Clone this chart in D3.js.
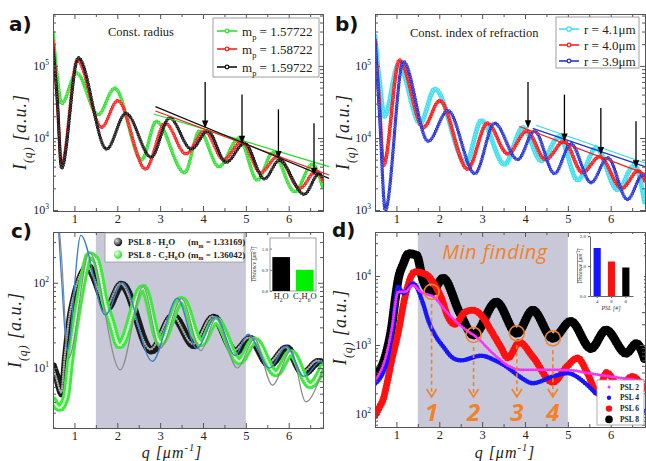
<!DOCTYPE html>
<html><head><meta charset="utf-8">
<script src="https://cdn.jsdelivr.net/npm/d3@7/dist/d3.min.js"></script>
<style>html,body{margin:0;padding:0;background:#fff;}svg{display:block;}</style>
</head><body>
<svg id="fig" width="646" height="461"></svg>
<script>
// ---------------- data ----------------
const qMajor = [1, 2, 3, 4, 5, 6];
const qMinor = [0.5, 1.5, 2.5, 3.5, 4.5, 5.5, 6.5];
const yTicksAB = [1e3, 1e4, 1e5];
const yTicksC = [1e1, 1e2];
const yTicksD = [1e2, 1e3, 1e4];

// panel a (const. radius)
const aGreen = [[0.5,2.9e5],[0.6,7.0e4],[0.7,3.0e4],[1.05,8.0e4],[1.55,2.1e4],[1.94,4.9e4],[2.57,5.0e3],[2.91,1.7e4],[3.57,3.3e3],[3.92,1.25e4],[4.37,4.0e3],[4.84,1.0e4],[5.27,2.6e3],[5.63,6.3e3],[6.14,1.8e3],[6.55,4.3e3],[6.8,2.0e3]];
const abRed  = [[0.5,2.2e5],[0.6,3.2e4],[0.7,4.2e3],[1.07,1.2e5],[1.63,1.4e4],[2.01,3.3e4],[2.66,3.7e3],[3.12,1.6e4],[3.6,6.0e3],[4.04,1.25e4],[4.48,5.0e3],[4.91,9.0e3],[5.34,3.3e3],[5.74,5.5e3],[6.26,2.0e3],[6.64,3.5e3],[6.8,2.5e3]];
const aBlack = [[0.5,1.8e5],[0.6,3.4e4],[0.7,3.8e3],[1.09,1.3e5],[1.75,7.0e3],[2.2,2.2e4],[2.79,5.4e3],[3.22,1.9e4],[3.73,7.0e3],[4.11,1.25e4],[4.54,4.6e3],[4.97,8.5e3],[5.43,2.7e3],[5.78,4.9e3],[6.36,1.65e3],[6.71,3.2e3],[6.8,2.8e3]];
const aFitGreen = [[2.85,2.15e4],[6.94,4.0e3]];
const aFitRed   = [[2.89,2.37e4],[6.94,3.06e3]];
const aFitBlack = [[2.89,2.72e4],[6.94,2.75e3]];
const aArrowQ    = [4.05, 4.91, 5.76, 6.59];
const aArrowTip  = [1.35e4, 8.3e3, 5.1e3, 3.0e3];
const aArrowTail = [6.0e4, 4.0e4, 2.5e4, 1.6e4];

// panel b (const. index of refraction)
const bCyan = [[0.5,2.6e5],[0.6,6.5e4],[0.72,2.0e4],[1.05,1.05e5],[1.55,1.6e4],[1.9,4.8e4],[2.62,4.5e3],[2.98,1.75e4],[3.52,4.3e3],[3.95,1.4e4],[4.38,4.8e3],[4.8,1.05e4],[5.23,2.6e3],[5.66,7.3e3],[6.16,1.9e3],[6.55,4.2e3],[6.8,1.2e3]];
const bBlue = [[0.5,2.3e5],[0.6,2.5e4],[0.74,1.0e3],[1.16,1.15e5],[1.74,9.0e3],[2.2,2.4e4],[2.83,3.2e3],[3.29,1.6e4],[3.83,5.0e3],[4.22,1.25e4],[4.69,3.2e3],[5.07,8.3e3],[5.54,2.4e3],[5.93,5.3e3],[6.39,1.4e3],[6.75,3.1e3],[6.8,3.0e3]];
const bFitCyan = [[4.26,1.5e4],[6.8,4.5e3]];
const bFitRed  = [[3.87,1.44e4],[6.8,3.2e3]];
const bFitBlue = [[4.18,1.36e4],[6.8,4.0e3]];
const bArrowQ    = [4.07, 4.92, 5.77, 6.59];
const bArrowTip  = [1.36e4, 8.9e3, 5.8e3, 3.8e3];
const bArrowTail = [6.0e4, 4.0e4, 2.6e4, 1.7e4];

// panel c (PSL 8 in two media)
const cH2O   = [[0.5,10.5],[0.6,7.5],[0.72,5.0],[0.8,13],[0.9,36],[1.0,66],[1.1,100],[1.2,132],[1.32,155],[1.45,120],[1.6,76],[1.75,50],[2.1,95],[2.8,16],[3.3,40],[3.8,18.5],[4.25,39],[4.75,15.5],[5.1,22],[5.55,11],[5.95,17],[6.35,8.7],[6.7,11.8],[6.8,11.5]];
const cC2H6O = [[0.5,4.2],[0.65,3.4],[0.8,4.6],[0.9,12],[1.0,28],[1.1,58],[1.2,110],[1.35,210],[1.5,185],[1.6,118],[1.7,63],[1.85,36],[2.05,18.5],[2.6,87],[3.0,20],[3.5,63],[3.95,19.5],[4.3,36],[4.85,12],[5.2,21],[5.7,8.7],[6.05,15],[6.5,6.3],[6.8,10.5]];
const cFitBlue = [[0.5,2000],[0.6,700],[0.7,110],[0.83,16],[1.15,360],[1.72,42],[2.12,100],[2.82,12],[3.4,66],[3.85,17],[4.3,40],[4.75,14],[5.05,25],[5.55,10],[5.95,18],[6.35,8],[6.75,12],[6.8,11.5]];
const cFitGray = [[0.6,900],[0.7,200],[0.86,13],[1.35,225],[2.07,9.5],[2.6,90],[3.0,17],[3.5,65],[3.95,16],[4.3,38],[4.8,10],[5.2,22],[5.62,6.3],[6.05,16],[6.4,4.0],[6.8,10]];
const cInsetCats = ["H2O", "C2H6O"];
const cInsetVals = [0.96, 0.90];

// panel d (min finding)
const dPSL2 = [[0.5,310],[0.77,750],[0.89,1700],[1.04,5900],[1.2,5900],[1.39,7400],[1.55,6000],[1.86,5000],[2.24,2700],[2.63,1650],[2.87,1300],[3.25,760],[3.64,490],[3.87,440],[4.5,440],[5.1,430],[5.4,400],[6.0,350],[6.8,300]];
const dPSL4 = [[0.5,275],[0.77,550],[0.89,1450],[1.04,7000],[1.16,5600],[1.39,7800],[1.62,4000],[1.74,2300],[1.9,1400],[2.09,950],[2.32,650],[2.5,600],[2.98,700],[3.3,600],[3.56,490],[3.87,350],[4.18,280],[4.65,350],[4.99,390],[5.42,275],[5.62,210],[6.0,160],[6.4,130],[6.8,110]];
const dPSL6 = [[0.5,95],[0.6,125],[0.7,170],[0.77,260],[0.89,600],[1.04,1500],[1.2,5000],[1.43,11500],[1.7,10500],[1.86,8000],[2.05,4800],[2.2,2600],[2.36,2000],[2.6,3000],[2.8,3200],[3.0,2600],[3.2,1650],[3.43,950],[3.6,650],[3.87,1100],[4.18,680],[4.65,290],[4.98,490],[5.23,650],[5.45,400],[5.7,200],[5.9,400],[6.2,250],[6.5,350],[6.8,220]];
const dPSL8 = [[0.5,350],[0.77,800],[0.89,1850],[0.97,4500],[1.04,8800],[1.16,15000],[1.28,21000],[1.47,20000],[1.62,8700],[1.82,5900],[2.09,9300],[2.48,2900],[2.8,1400],[3.33,4200],[3.81,1480],[4.18,3200],[4.65,1250],[5.07,2200],[5.54,890],[5.89,1650],[6.36,760],[6.6,1050],[6.8,600]];
const dInsetCats = ["4", "6", "8"];
const dInsetVals = [1.6, 1.15, 0.95];
const minQ = [1.82, 2.8, 3.81, 4.65];
const minI = [5900, 1400, 1480, 1250];
const minLabels = ["1", "2", "3", "4"];
const shadeQ = [1.5, 5.0];

// ---------------- drawing ----------------
const SERIF = '"Liberation Serif","Times New Roman",serif';
const SANS = '"DejaVu Sans",Verdana,sans-serif';
const ORANGE = '#f2822a';
const AXC = '#555';
const svg = d3.select('#fig');
const defs = svg.append('defs');

function rich(sel, parts, base) {
  let shift = 0;
  parts.forEach(([t, k]) => {
    const target = k === 'sub' ? base * 0.32 : k === 'sup' ? -base * 0.42 : 0;
    const ts = sel.append('tspan').text(t).attr('dy', target - shift);
    if (k) ts.attr('font-size', base * 0.65);
    shift = target;
  });
  return sel;
}

function minorLog(dom) {
  const out = [];
  for (let e = Math.floor(Math.log10(dom[0])); e <= Math.ceil(Math.log10(dom[1])); e++)
    for (let k = 2; k <= 9; k++) { const v = k * Math.pow(10, e); if (v > dom[0] && v < dom[1]) out.push(v); }
  return out;
}

function makePanel(id, xr, yr, ydom) {
  const x = d3.scaleLinear().domain([0.5, 6.8]).range(xr);
  const y = d3.scaleLog().domain(ydom).range(yr);
  const g = svg.append('g');
  defs.append('clipPath').attr('id', 'clip' + id).append('rect')
    .attr('x', xr[0]).attr('y', yr[1]).attr('width', xr[1] - xr[0]).attr('height', yr[0] - yr[1]);
  const plot = g.append('g').attr('clip-path', `url(#clip${id})`);
  return { x, y, g, plot };
}

function axes(P, majorY) {
  const { x, y, g } = P;
  const [xl, xr] = x.range(), [yb, yt] = y.range();
  const add = (ax, tr) => {
    const s = g.append('g').attr('transform', tr).call(ax);
    s.select('.domain').attr('stroke', AXC);
    s.selectAll('.tick line').attr('stroke', AXC);
    return s;
  };
  const xb = add(d3.axisBottom(x).tickValues(qMajor).tickFormat(d3.format('d')).tickSizeInner(-5).tickSizeOuter(0).tickPadding(3), `translate(0,${yb})`);
  xb.selectAll('text').attr('font-size', 12.5).attr('font-family', SERIF).attr('fill', '#222');
  add(d3.axisBottom(x).tickValues(qMinor).tickSizeInner(-3).tickSizeOuter(0).tickFormat(''), `translate(0,${yb})`);
  add(d3.axisTop(x).tickValues(qMajor).tickSizeInner(-5).tickSizeOuter(0).tickFormat(''), `translate(0,${yt})`);
  add(d3.axisTop(x).tickValues(qMinor).tickSizeInner(-3).tickSizeOuter(0).tickFormat(''), `translate(0,${yt})`);
  const yl = add(d3.axisLeft(y).tickValues(majorY).tickSizeInner(-5).tickSizeOuter(0).tickPadding(4), `translate(${xl},0)`);
  yl.selectAll('.tick text').each(function (d) {
    const t = d3.select(this).text('10').attr('font-size', 12).attr('font-family', SERIF).attr('fill', '#222');
    t.append('tspan').attr('dy', -5).attr('font-size', 7.5).text(Math.round(Math.log10(d)));
  });
  const mn = minorLog(y.domain());
  add(d3.axisLeft(y).tickValues(mn).tickSizeInner(-3).tickSizeOuter(0).tickFormat(''), `translate(${xl},0)`);
  add(d3.axisRight(y).tickValues(majorY).tickSizeInner(-5).tickSizeOuter(0).tickFormat(''), `translate(${xr},0)`);
  add(d3.axisRight(y).tickValues(mn).tickSizeInner(-3).tickSizeOuter(0).tickFormat(''), `translate(${xr},0)`);
}

function curvePath(data, x, y) {
  return d3.line().x(d => x(d[0])).y(d => y(d[1])).curve(d3.curveMonotoneX)(data);
}
function beads(g, data, x, y, o) {
  const p = curvePath(data, x, y);
  const gg = g.append('g');
  gg.append('path').attr('d', p).attr('fill', 'none').attr('stroke', o.color)
    .attr('stroke-width', o.size).attr('stroke-linecap', 'round').attr('stroke-dasharray', `0 ${o.gap}`);
  if (o.inner) {
    gg.append('path').attr('d', p).attr('fill', 'none').attr('stroke', o.inner)
      .attr('stroke-width', o.innerSize).attr('stroke-linecap', 'round').attr('stroke-dasharray', `0 ${o.gap}`)
      .attr('opacity', o.innerOpacity || 1)
      .attr('transform', o.innerShift ? `translate(${o.innerShift[0]},${o.innerShift[1]})` : null);
  }
  if (o.line) gg.append('path').attr('d', p).attr('fill', 'none').attr('stroke', o.lineColor || o.color).attr('stroke-width', o.line);
}
function plainLine(g, data, x, y, color, w, curve) {
  g.append('path').attr('d', d3.line().x(d => x(d[0])).y(d => y(d[1])).curve(curve || d3.curveLinear)(data))
    .attr('fill', 'none').attr('stroke', color).attr('stroke-width', w);
}
function arrows(g, qs, tips, tails, x, y) {
  qs.forEach((q, i) => {
    const xx = x(q), yt = y(tips[i]), y0 = y(tails[i]);
    g.append('line').attr('x1', xx).attr('x2', xx).attr('y1', y0).attr('y2', yt - 6).attr('stroke', '#000').attr('stroke-width', 1.3);
    g.append('path').attr('d', `M${xx - 3.2},${yt - 8}L${xx + 3.2},${yt - 8}L${xx},${yt}Z`).attr('fill', '#000');
  });
}
function ylabel(xb, yc) {
  const t = svg.append('text').attr('transform', `translate(${xb},${yc}) rotate(-90)`).attr('text-anchor', 'middle')
    .attr('font-family', SERIF).attr('font-style', 'italic').attr('font-size', 18).attr('letter-spacing', 1).attr('fill', '#222');
  rich(t, [['I', 0], ['(q)', 'sub'], [' [a.u.]', 0]], 18);
}
function xlabel(xc, yb) {
  const t = svg.append('text').attr('x', xc).attr('y', yb).attr('text-anchor', 'middle')
    .attr('font-family', SERIF).attr('font-style', 'italic').attr('font-size', 16).attr('letter-spacing', 1).attr('fill', '#222');
  rich(t, [['q [μm', 0], ['-1', 'sup'], [']', 0]], 16);
}
function panelLabel(s, xx, yy) {
  svg.append('text').attr('x', xx).attr('y', yy).text(s).attr('font-family', SANS).attr('font-weight', 'bold').attr('font-size', 20).attr('fill', '#111');
}
function legendLine(g, x0, yy, color, r, txtParts, size) {
  g.append('line').attr('x1', x0).attr('x2', x0 + 20).attr('y1', yy).attr('y2', yy).attr('stroke', color).attr('stroke-width', 1.6);
  g.append('circle').attr('cx', x0 + 10).attr('cy', yy).attr('r', r).attr('fill', '#fff').attr('stroke', color).attr('stroke-width', 1.3);
  const t = g.append('text').attr('x', x0 + 25).attr('y', yy + 4.5).attr('font-family', SERIF).attr('font-size', size).attr('fill', '#222');
  rich(t, txtParts, size);
}

// ===== Panel a =====
const A = makePanel('a', [53, 323], [211, 14], [970, 5.25e5]);
beads(A.plot, aGreen, A.x, A.y, { color: '#33e033', size: 3.8, gap: 2.6, inner: '#d4fad4', innerSize: 1.6, line: 0.9 });
beads(A.plot, abRed, A.x, A.y, { color: '#ff2020', size: 3.6, gap: 2.6, inner: '#ffd8d8', innerSize: 1.5, line: 0.9 });
beads(A.plot, aBlack, A.x, A.y, { color: '#151515', size: 3.4, gap: 2.6, inner: '#d8d8d8', innerSize: 1.4, line: 0.9 });
plainLine(A.g, aFitGreen, A.x, A.y, '#22dd22', 1.2);
plainLine(A.g, aFitRed, A.x, A.y, '#ff1a1a', 1.2);
plainLine(A.g, aFitBlack, A.x, A.y, '#111', 1.2);
arrows(A.g, aArrowQ, aArrowTip, aArrowTail, A.x, A.y);
axes(A, yTicksAB);
A.g.append('text').attr('x', 108).attr('y', 36).text('Const. radius').attr('font-family', SERIF).attr('font-size', 12.5).attr('fill', '#222');
{
  const L = A.g.append('g');
  L.append('rect').attr('x', 213).attr('y', 18).attr('width', 106).attr('height', 59).attr('fill', '#fff').attr('stroke', '#888').attr('stroke-width', 0.8);
  legendLine(L, 217, 31, '#33e033', 1.8, [['m', 0], ['p', 'sub'], [' = 1.57722', 0]], 13);
  legendLine(L, 217, 49, '#ff2020', 1.8, [['m', 0], ['p', 'sub'], [' = 1.58722', 0]], 13);
  legendLine(L, 217, 67, '#151515', 1.8, [['m', 0], ['p', 'sub'], [' = 1.59722', 0]], 13);
}
ylabel(26, 132);
panelLabel('a)', 9, 31);

// ===== Panel b =====
const B = makePanel('b', [375, 645], [211, 14], [970, 5.25e5]);
beads(B.plot, bCyan, B.x, B.y, { color: '#40e0f0', size: 5, gap: 2.8, inner: '#dcfafd', innerSize: 2.2, line: 1.4 });
beads(B.plot, abRed, B.x, B.y, { color: '#ff2020', size: 4, gap: 2.6, inner: '#ffd8d8', innerSize: 1.6, line: 1.1 });
beads(B.plot, bBlue, B.x, B.y, { color: '#2535d8', size: 3.6, gap: 2.6, inner: '#d8dcff', innerSize: 1.5, line: 1.0 });
plainLine(B.g, bFitCyan, B.x, B.y, '#30d8ec', 1.2);
plainLine(B.g, bFitRed, B.x, B.y, '#ff1a1a', 1.2);
plainLine(B.g, bFitBlue, B.x, B.y, '#2233cc', 1.2);
arrows(B.g, bArrowQ, bArrowTip, bArrowTail, B.x, B.y);
axes(B, yTicksAB);
B.g.append('text').attr('x', 410).attr('y', 37).text('Const. index of refraction').attr('font-family', SERIF).attr('font-size', 12.5).attr('fill', '#222');
{
  const L = B.g.append('g');
  L.append('rect').attr('x', 556).attr('y', 17).attr('width', 83).attr('height', 51).attr('fill', '#fff').attr('stroke', '#888').attr('stroke-width', 0.8);
  legendLine(L, 559, 29, '#40e0f0', 2.2, [['r = 4.1μm', 0]], 13);
  legendLine(L, 559, 45, '#ff2020', 1.8, [['r = 4.0μm', 0]], 13);
  legendLine(L, 559, 61, '#2535d8', 1.8, [['r = 3.9μm', 0]], 13);
}
ylabel(349, 132);
panelLabel('b)', 335, 31);

// ===== Panel c =====
const C = makePanel('c', [53, 323], [428, 232], [1.98, 394]);
C.plot.append('rect').attr('x', C.x(shadeQ[0])).attr('y', 232).attr('width', C.x(shadeQ[1]) - C.x(shadeQ[0])).attr('height', 196).attr('fill', '#c8c8d8');
beads(C.plot, cH2O, C.x, C.y, { color: '#1a1a1a', size: 8, gap: 2.4, inner: '#e8e8e8', innerSize: 2.4, innerOpacity: 0.7, innerShift: [-1.2, -1.3] });
beads(C.plot, cC2H6O, C.x, C.y, { color: '#3ee83e', size: 8, gap: 2.4, inner: '#e6ffe6', innerSize: 2.6, innerOpacity: 0.9 });
plainLine(C.plot, cFitGray, C.x, C.y, '#8a8a8a', 1.2, d3.curveMonotoneX);
plainLine(C.plot, cFitBlue, C.x, C.y, '#3b7fc4', 1.3, d3.curveMonotoneX);
axes(C, yTicksC);
{
  const L = C.g.append('g');
  L.append('rect').attr('x', 105).attr('y', 233).attr('width', 139).attr('height', 29).attr('fill', '#fff').attr('stroke', '#999').attr('stroke-width', 0.8);
  const grad = (id, c0, c1) => {
    const rg = defs.append('radialGradient').attr('id', id).attr('cx', '35%').attr('cy', '35%').attr('r', '65%');
    rg.append('stop').attr('offset', '0%').attr('stop-color', c0);
    rg.append('stop').attr('offset', '100%').attr('stop-color', c1);
  };
  grad('gBlack', '#e0e0e0', '#111');
  grad('gGreen', '#eaffea', '#2ee02e');
  L.append('circle').attr('cx', 118).attr('cy', 242).attr('r', 4.2).attr('fill', 'url(#gBlack)');
  L.append('circle').attr('cx', 118).attr('cy', 254.5).attr('r', 4.2).attr('fill', 'url(#gGreen)');
  const tt = (xx, yy, parts) => rich(L.append('text').attr('x', xx).attr('y', yy).attr('font-family', SERIF).attr('font-weight', 'bold').attr('font-size', 9).attr('fill', '#222'), parts, 9);
  tt(128, 245, [['PSL 8 - H', 0], ['2', 'sub'], ['O', 0]]);
  tt(188, 245, [['(m', 0], ['m', 'sub'], [' = 1.33169)', 0]]);
  tt(128, 257.5, [['PSL 8 - C', 0], ['2', 'sub'], ['H', 0], ['6', 'sub'], ['O', 0]]);
  tt(188, 257.5, [['(m', 0], ['m', 'sub'], [' = 1.36042)', 0]]);
}
{ // inset c
  const I = C.g.append('g');
  const xi = d3.scaleBand().domain(cInsetCats).range([270, 316]).paddingInner(0.25).paddingOuter(0.1);
  const yi = d3.scaleLinear().domain([0.8, 1.05]).range([291, 238]);
  I.append('rect').attr('x', 270).attr('y', 238).attr('width', 46).attr('height', 53).attr('fill', '#fff').attr('stroke', '#777').attr('stroke-width', 0.7);
  I.selectAll('rect.bar').data(cInsetVals).enter().append('rect').attr('class', 'bar')
    .attr('x', (d, i) => xi(cInsetCats[i])).attr('width', xi.bandwidth())
    .attr('y', d => yi(d)).attr('height', d => yi(0.8) - yi(d))
    .attr('fill', (d, i) => ['#000', '#00f000'][i]);
  const ya = I.append('g').attr('transform', 'translate(270,0)').call(d3.axisLeft(yi).tickValues([0.8, 0.9, 1.0]).tickFormat(d3.format('.1f')).tickSizeInner(-2).tickSizeOuter(0).tickPadding(2));
  ya.select('.domain').remove();
  ya.selectAll('line').attr('stroke', '#777');
  ya.selectAll('text').attr('font-size', 5).attr('font-family', SERIF).attr('fill', '#333');
  const lab = [[['H', 0], ['2', 'sub'], ['O', 0]], [['C', 0], ['2', 'sub'], ['H', 0], ['6', 'sub'], ['O', 0]]];
  cInsetCats.forEach((c, i) => rich(I.append('text').attr('x', xi(c) + xi.bandwidth() / 2).attr('y', 299).attr('text-anchor', 'middle').attr('font-family', SERIF).attr('font-size', 8.5).attr('fill', '#222'), lab[i], 8.5));
  const yt = I.append('text').attr('transform', 'translate(256,264) rotate(-90)').attr('text-anchor', 'middle').attr('font-family', SERIF).attr('font-style', 'italic').attr('font-size', 5.5).attr('text-decoration', 'overline').attr('fill', '#333');
  rich(yt, [['Distance [μm', 0], ['-1', 'sup'], [']', 0]], 5.5);
}
ylabel(21, 330);
xlabel(172, 458);
panelLabel('c)', 11, 238);

// ===== Panel d =====
const D = makePanel('d', [375, 645], [427, 232], [64.9, 43450]);
D.plot.append('rect').attr('x', D.x(shadeQ[0])).attr('y', 232).attr('width', D.x(shadeQ[1]) - D.x(shadeQ[0])).attr('height', 195).attr('fill', '#c8c8d8');
beads(D.plot, dPSL8, D.x, D.y, { color: '#000', size: 9, gap: 2.6 });
beads(D.plot, dPSL6, D.x, D.y, { color: '#ff1010', size: 7, gap: 2.8 });
beads(D.plot, dPSL4, D.x, D.y, { color: '#1515ff', size: 4.6, gap: 2.4 });
beads(D.plot, dPSL2, D.x, D.y, { color: '#ff30ff', size: 3, gap: 2.4 });
D.g.append('text').attr('x', 495).attr('y', 259).attr('text-anchor', 'middle').text('Min finding')
  .attr('font-family', '"Open Sans",sans-serif').attr('font-style', 'italic').attr('font-size', 20).attr('letter-spacing', 0.5).attr('fill', ORANGE);
minQ.forEach((q, i) => {
  const cx = D.x(q), cy = D.y(minI[i]);
  D.g.append('circle').attr('cx', cx).attr('cy', cy).attr('r', 7.5).attr('fill', 'none').attr('stroke', ORANGE).attr('stroke-width', 1.6);
  D.g.append('line').attr('x1', cx).attr('x2', cx).attr('y1', cy + 12).attr('y2', 396).attr('stroke', ORANGE).attr('stroke-width', 1.6).attr('stroke-dasharray', '4 3');
  D.g.append('path').attr('d', `M${cx - 5},${389}L${cx},${397}L${cx + 5},${389}`).attr('fill', 'none').attr('stroke', ORANGE).attr('stroke-width', 1.6);
  D.g.append('text').attr('x', cx).attr('y', 421).attr('text-anchor', 'middle').text(minLabels[i])
    .attr('font-family', '"Open Sans",sans-serif').attr('font-style', 'italic').attr('font-weight', 'bold').attr('font-size', 24).attr('fill', ORANGE);
});
axes(D, yTicksD);
{ // inset d
  const I = D.g.append('g');
  I.append('rect').attr('x', 572).attr('y', 234).attr('width', 72).attr('height', 77).attr('fill', '#fff');
  const xi = d3.scaleBand().domain(dInsetCats).range([590, 633]).paddingInner(0.5).paddingOuter(0.25);
  const yi = d3.scaleLinear().domain([0, 2]).range([296, 236]);
  I.selectAll('rect.bar').data(dInsetVals).enter().append('rect').attr('class', 'bar')
    .attr('x', (d, i) => xi(dInsetCats[i])).attr('width', xi.bandwidth())
    .attr('y', d => yi(d)).attr('height', d => yi(0) - yi(d))
    .attr('fill', (d, i) => ['#1515ff', '#ff1010', '#000'][i]);
  const ya = I.append('g').attr('transform', 'translate(590,0)').call(d3.axisLeft(yi).tickValues([0, 1, 2]).tickSizeInner(2).tickSizeOuter(0).tickPadding(2));
  ya.select('.domain').attr('stroke', '#666'); ya.selectAll('line').attr('stroke', '#666');
  ya.selectAll('text').attr('font-size', 5).attr('font-family', SERIF).attr('fill', '#333');
  const xa = I.append('g').attr('transform', 'translate(0,296)').call(d3.axisBottom(xi).tickSizeInner(2).tickSizeOuter(0).tickPadding(1.5));
  xa.select('.domain').attr('stroke', '#666'); xa.selectAll('line').attr('stroke', '#666');
  xa.selectAll('text').attr('font-size', 5).attr('font-family', SERIF).attr('fill', '#333');
  I.append('text').attr('x', 611).attr('y', 310).attr('text-anchor', 'middle').text('PSL [#]').attr('font-family', SERIF).attr('font-style', 'italic').attr('font-size', 6).attr('fill', '#333');
  const yt = I.append('text').attr('transform', 'translate(582,266) rotate(-90)').attr('text-anchor', 'middle').attr('font-family', SERIF).attr('font-style', 'italic').attr('font-size', 5.5).attr('text-decoration', 'overline').attr('fill', '#333');
  rich(yt, [['Distance [μm', 0], ['-1', 'sup'], [']', 0]], 5.5);
}
{ // legend d
  const L = D.g.append('g');
  L.append('rect').attr('x', 597).attr('y', 380).attr('width', 47).attr('height', 45).attr('fill', '#fff').attr('stroke', '#999').attr('stroke-width', 0.8);
  const items = [['PSL 2', '#ff30ff', 1.5], ['PSL 4', '#1515ff', 2.2], ['PSL 6', '#ff1010', 3.2], ['PSL 8', '#000', 3.8]];
  items.forEach((it, i) => {
    const yy = 387 + i * 10.8;
    L.append('circle').attr('cx', 609).attr('cy', yy).attr('r', it[2]).attr('fill', it[1]);
    L.append('text').attr('x', 620).attr('y', yy + 2.6).text(it[0]).attr('font-family', SERIF).attr('font-weight', 'bold').attr('font-size', 7.5).attr('fill', '#222');
  });
}
ylabel(346, 327);
xlabel(505, 458);
panelLabel('d)', 332, 237);
</script>
</body></html>
